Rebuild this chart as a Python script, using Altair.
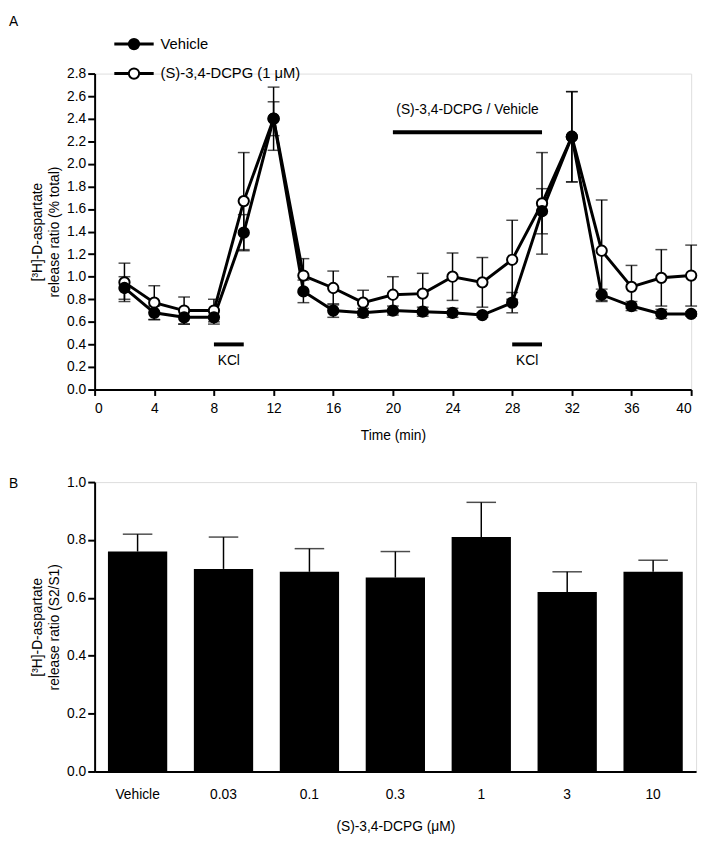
import altair as alt
import pandas as pd

# ---------------- Panel A data ----------------
time_min = [2, 4, 6, 8, 10, 12, 14, 16, 18, 20, 22, 24, 26, 28, 30, 32, 34, 36, 38, 40]
vehicle_mean = [0.90, 0.68, 0.64, 0.64, 1.39, 2.40, 0.87, 0.70, 0.68, 0.70,
                0.69, 0.68, 0.66, 0.77, 1.58, 2.24, 0.84, 0.74, 0.67, 0.67]
vehicle_err = [0.10, 0.06, 0.06, 0.06, 0.16, 0.15, 0.10, 0.06, 0.04, 0.04,
               0.04, 0.04, 0.02, 0.09, 0.20, 0.40, 0.05, 0.04, 0.04, 0.02]
dcpg_mean = [0.95, 0.77, 0.70, 0.70, 1.67, 2.40, 1.01, 0.90, 0.77, 0.84,
             0.85, 1.00, 0.95, 1.15, 1.65, 2.24, 1.23, 0.91, 0.99, 1.01]
dcpg_err = [0.17, 0.15, 0.12, 0.10, 0.43, 0.28, 0.15, 0.15, 0.11, 0.16,
            0.18, 0.21, 0.22, 0.35, 0.45, 0.40, 0.45, 0.19, 0.25, 0.27]
series_names = ["Vehicle", "(S)-3,4-DCPG (1 μM)"]

kcl_start = [8, 28]
kcl_end = [10, 30]
kcl_level = [0.4, 0.4]
kcl_text_level = [0.25, 0.25]
kcl_label = ["KCl", "KCl"]

drug_start = [20]
drug_end = [30]
drug_level = [2.28]
drug_text_level = [2.48]
drug_label = ["(S)-3,4-DCPG / Vehicle"]

# ---------------- Panel B data ----------------
conc_labels = ["Vehicle", "0.03", "0.1", "0.3", "1", "3", "10"]
ratio_mean = [0.76, 0.70, 0.69, 0.67, 0.81, 0.62, 0.69]
ratio_err = [0.06, 0.11, 0.08, 0.09, 0.12, 0.07, 0.04]

FONT = "Liberation Sans"
NARROW = "Liberation Sans Narrow, Liberation Sans"

rows = []
for s, m, e in ((series_names[0], vehicle_mean, vehicle_err), (series_names[1], dcpg_mean, dcpg_err)):
    for t, mv, ev in zip(time_min, m, e):
        rows.append({"series": s, "t": t, "v": mv, "lo": mv - ev, "hi": mv + ev})
df = pd.DataFrame(rows)

xscale = alt.Scale(domain=[0, 40], nice=False)
yscale = alt.Scale(domain=[0, 2.8], nice=False)
xaxis = alt.Axis(values=list(range(0, 41, 4)), title="Time (min)", domainWidth=2, domainColor="black",
                 tickWidth=2, tickColor="black", tickSize=6, labelPadding=6, labelFontSize=14,
                 labelColor="black", labelFont=FONT, titleFont=FONT, titleFontSize=14,
                 titleFontWeight="normal", titleColor="black", titlePadding=14, grid=False)
yaxis = alt.Axis(values=[round(i * 0.2, 1) for i in range(15)], format=".1f",
                 title=["[³H]-D-aspartate", "release ratio (% total)"], domainWidth=2,
                 domainColor="black", tickWidth=2, tickColor="black", tickSize=7, labelPadding=2,
                 labelFontSize=14, labelColor="black", labelFont=FONT, titleFont=FONT,
                 titleFontSize=14, titleFontWeight="normal", titleColor="black", titlePadding=5,
                 titleLineHeight=18, grid=False)


def X(f):
    return alt.X(f, type="quantitative", scale=xscale, axis=xaxis)


def Y(f):
    return alt.Y(f, type="quantitative", scale=yscale, axis=yaxis)


base = alt.Chart(df)
err_rule = base.mark_rule(color="black", strokeWidth=1.5).encode(x=X("t"), y=Y("lo"), y2="hi")
cap_hi = base.mark_tick(color="black", thickness=1.5, size=12, orient="horizontal").encode(x=X("t"), y=Y("hi"))
cap_lo = base.mark_tick(color="black", thickness=1.5, size=12, orient="horizontal").encode(x=X("t"), y=Y("lo"))
lines = base.mark_line(color="black", strokeWidth=3).encode(x=X("t"), y=Y("v"), detail="series:N")
pts_dcpg = base.transform_filter(alt.datum.series == series_names[1]).mark_point(
    shape="circle", size=110, fill="white", fillOpacity=1, stroke="black", strokeWidth=2, opacity=1
).encode(x=X("t"), y=Y("v"))
pts_veh = base.transform_filter(alt.datum.series == series_names[0]).mark_point(
    shape="circle", size=110, fill="black", fillOpacity=1, stroke="black", strokeWidth=2, opacity=1
).encode(x=X("t"), y=Y("v"))

ann_df = pd.DataFrame({"x1": kcl_start + drug_start, "x2": kcl_end + drug_end,
                       "y": kcl_level + drug_level})
ann_txt = pd.DataFrame({"x": [(a + b) / 2 for a, b in zip(kcl_start + drug_start, kcl_end + drug_end)],
                        "y": kcl_text_level + drug_text_level, "label": kcl_label + drug_label})
ann_bars = alt.Chart(ann_df).mark_rule(color="black", strokeWidth=4).encode(x=X("x1"), x2="x2", y=Y("y"))
ann_text = alt.Chart(ann_txt).mark_text(font=FONT, fontSize=14, color="black").encode(
    x=X("x"), y=Y("y"), text="label:N")

# legend (manual)
leg_df = pd.DataFrame({"label": series_names})
leg_layers = []
for i, (name, fill) in enumerate(zip(series_names, ["black", "white"])):
    yy = -30 + 30 * i
    d = alt.Chart(leg_df).transform_filter(alt.datum.label == name)
    leg_layers.append(d.mark_rule(color="black", strokeWidth=3).encode(
        x=alt.value(20), x2=alt.value(60), y=alt.value(yy)))
    leg_layers.append(d.mark_point(shape="circle", size=110, fill=fill, fillOpacity=1, stroke="black",
                                   strokeWidth=2, opacity=1).encode(x=alt.value(40), y=alt.value(yy)))
    leg_layers.append(d.mark_text(font=FONT, fontSize=15, color="black", align="left", baseline="middle").encode(
        x=alt.value(67), y=alt.value(yy), text="label:N"))

panel_a_lbl = alt.Chart(pd.DataFrame({"p": ["A"]})).mark_text(
    font=FONT, fontSize=14, color="black", align="left", baseline="top").encode(
    x=alt.value(-87), y=alt.value(-59), text="p:N")

top = alt.layer(err_rule, cap_hi, cap_lo, lines, pts_dcpg, pts_veh, ann_bars, ann_text,
                *leg_layers, panel_a_lbl).properties(width=606, height=321)

# ---------------- Panel B ----------------
bdf = pd.DataFrame({"c": conc_labels, "m": ratio_mean, "hi": [a + b for a, b in zip(ratio_mean, ratio_err)]})
bx = alt.X("c:N", sort=conc_labels, scale=alt.Scale(paddingInner=0.31, paddingOuter=0.155),
           axis=alt.Axis(title="(S)-3,4-DCPG (μM)", labelAngle=0, ticks=False, labelPadding=16,
                         domainWidth=2, domainColor="black", labelFontSize=14, labelColor="black",
                         labelFont=NARROW, titleFont=NARROW, titleFontSize=14, titleFontWeight="normal",
                         titleColor="black", titlePadding=19))
bscale = alt.Scale(domain=[0, 1.0], nice=False)
byaxis = alt.Axis(values=[0, 0.2, 0.4, 0.6, 0.8, 1.0], format=".1f",
                  title=["[³H]-D-aspartate", "release ratio (S2/S1)"], domainWidth=2, domainColor="black",
                  tickWidth=2, tickColor="black", tickSize=7, labelPadding=2, labelFontSize=14,
                  labelColor="black", labelFont=NARROW, titleFont=FONT, titleFontSize=14,
                  titleFontWeight="normal", titleColor="black", titlePadding=5, titleLineHeight=18,
                  grid=False)
bb = alt.Chart(bdf)
bars = bb.mark_bar(color="black").encode(x=bx, y=alt.Y("m:Q", scale=bscale, axis=byaxis))
berr = bb.mark_rule(color="black", strokeWidth=1.5).encode(
    x=bx, y=alt.Y("m:Q", scale=bscale, axis=byaxis), y2="hi:Q")
bcap = bb.mark_tick(color="black", thickness=1.5, size=30, orient="horizontal").encode(
    x=bx, y=alt.Y("hi:Q", scale=bscale, axis=byaxis))
panel_b_lbl = alt.Chart(pd.DataFrame({"p": ["B"]})).mark_text(
    font=FONT, fontSize=14, color="black", align="left", baseline="middle").encode(
    x=alt.value(-87), y=alt.value(2), text="p:N")
bottom = alt.layer(berr, bars, bcap, panel_b_lbl).properties(width=611, height=294)

chart = alt.vconcat(top, bottom, spacing=31).properties(padding=0).configure_view(
    stroke=None).configure(background="white")

chart.save("out.html", embed_options={"renderer": "svg", "actions": False})
